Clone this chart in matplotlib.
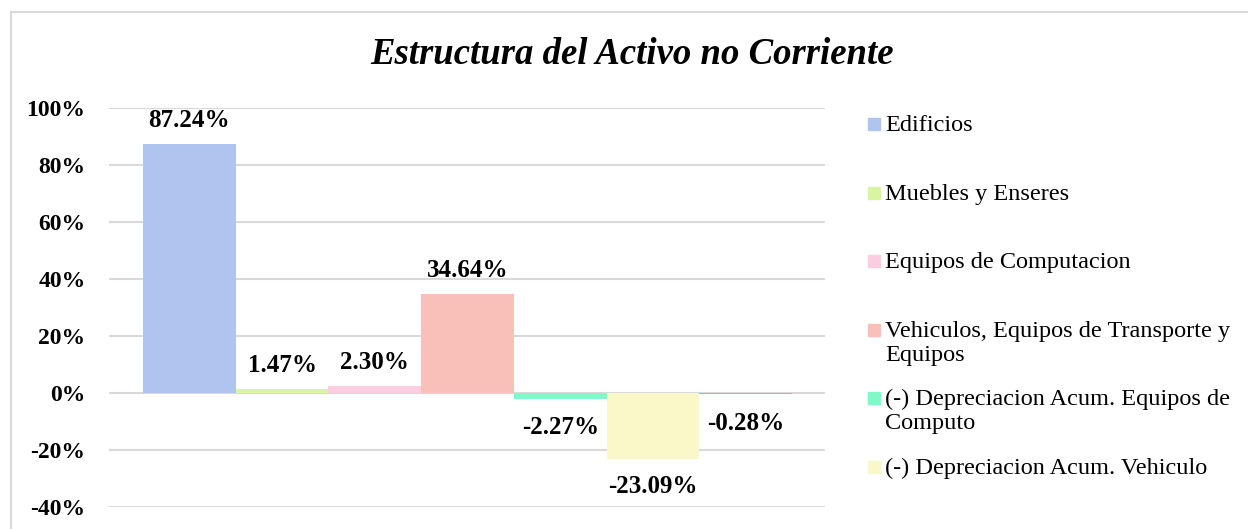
import matplotlib.pyplot as plt
from matplotlib.patches import Rectangle

categorias = ["Edificios", "Muebles y Enseres", "Equipos de Computacion",
              "Vehiculos, Equipos de Transporte y\nEquipos",
              "(-) Depreciacion Acum. Equipos de\nComputo",
              "(-) Depreciacion Acum. Vehiculo", "(-) Depreciacion Acum. Edificios"]
valores = [87.24, 1.47, 2.30, 34.64, -2.27, -23.09, -0.28]
colores = ["#B0C4F0", "#D8F5A0", "#FCCCE0", "#F8C0B8", "#80F8C8", "#FAF8C8", "#90B4F0"]
ticks_y = [-40, -20, 0, 20, 40, 60, 80, 100]

W, H = 1248, 529
plt.rcParams['font.family'] = ['Liberation Serif', 'DejaVu Serif']

fig = plt.figure(figsize=(W / 100, H / 100), dpi=100)
ax = fig.add_axes([109 / W, 1 - 507 / H, (825 - 109) / W, (507 - 108) / H])

# marco del grafico
fig.patches.append(Rectangle((11 / W, -0.1), 1.2, 1 - 12 / H + 0.1, transform=fig.transFigure,
                             fill=False, edgecolor="#D9D9D9", lw=1.5, zorder=0))

x = list(range(len(valores)))
ax.bar(x, valores, width=1.0, color=colores, zorder=3)

for xi, v in zip(x, valores):
    if v >= 0:
        ax.annotate(f"{v:.2f}%", (xi, v), xytext=(0, 17), textcoords="offset points",
                    ha="center", va="center", fontsize=18, fontweight="bold")
    else:
        ax.annotate(f"{v:.2f}%", (xi, min(v, -1.0)), xytext=(0, -20), textcoords="offset points",
                    ha="center", va="center", fontsize=18, fontweight="bold")

ax.set_ylim(-40, 100)
ax.set_xlim(-0.5 - 0.367, 6.5 + 0.355)
ax.set_yticks(ticks_y)
ax.set_yticklabels([f"{t}%" for t in ticks_y], fontsize=17, fontweight="bold")
ax.set_xticks([])
ax.tick_params(axis="y", length=0, pad=17)
ax.grid(axis="y", color="#D9D9D9", lw=1.5, zorder=0)
for s in ax.spines.values():
    s.set_visible(False)

fig.text(632 / W, 1 - 55 / H, "Estructura del Activo no Corriente", ha="center", va="center",
         fontsize=26.5, fontweight="bold", fontstyle="italic")

# leyenda
leg_y = [124, 193, 261, 330, 398, 467]
for yy, lab, col in zip(leg_y, categorias[:6], colores[:6]):
    fig.patches.append(Rectangle((868 / W, 1 - (yy + 6) / H), 12 / W, 12 / H,
                                 transform=fig.transFigure, color=col))
    fig.text(885 / W, 1 - (yy - 9) / H, lab, ha="left", va="top", fontsize=17.5,
             linespacing=1.2)

fig.savefig("out.png", dpi=100)
